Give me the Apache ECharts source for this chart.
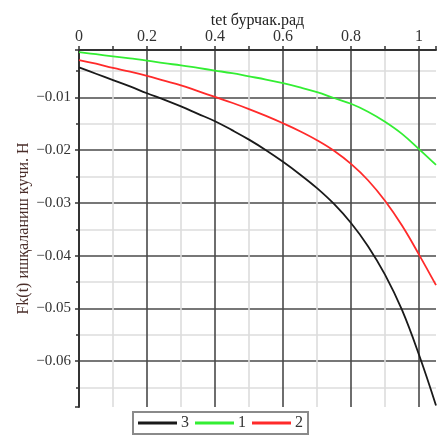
<!DOCTYPE html>
<html><head><meta charset="utf-8">
<script src="https://cdn.jsdelivr.net/npm/echarts@6/dist/echarts.min.js"></script>
<style>html,body{margin:0;padding:0;background:#fff}#c{width:444px;height:440px}</style>
</head><body><div id="c"></div>
<script>
const xValues = [0, 0.05, 0.1, 0.15, 0.2, 0.25, 0.3, 0.35, 0.4, 0.45, 0.5, 0.55, 0.6, 0.65, 0.7, 0.75, 0.8, 0.85, 0.9, 0.95, 1.0, 1.05];
const series3 = [-0.0043, -0.0055, -0.0067, -0.0079, -0.0092, -0.0104, -0.0117, -0.0131, -0.0145, -0.0162, -0.0180, -0.0200, -0.0222, -0.0246, -0.0272, -0.0302, -0.0338, -0.0382, -0.0436, -0.0503, -0.0588, -0.0684];
const series1 = [-0.0014, -0.0018, -0.0022, -0.0026, -0.0030, -0.0035, -0.0039, -0.0044, -0.0049, -0.0054, -0.0060, -0.0066, -0.0073, -0.0081, -0.0090, -0.0101, -0.0112, -0.0127, -0.0146, -0.0169, -0.0198, -0.0228];
const series2 = [-0.0029, -0.0036, -0.0044, -0.0051, -0.0059, -0.0068, -0.0077, -0.0088, -0.0099, -0.0110, -0.0122, -0.0135, -0.0149, -0.0164, -0.0181, -0.0201, -0.0226, -0.0257, -0.0296, -0.0343, -0.0398, -0.0456];
const seriesNames = ['3', '1', '2'];
const seriesColors = ['#1a1a1a', '#33ee33', '#ff2a2a'];
const xTitle = 'tet бурчак.рад';
const yTitle = 'Fk(t) ишқаланиш кучи. Н';

const font = 'Liberation Serif';
const pair = arr => xValues.map((x, i) => [x, arr[i]]);
const allSeries = [series3, series1, series2];
const chart = echarts.init(document.getElementById('c'), null, {renderer: 'canvas'});
chart.setOption({
  animation: false,
  backgroundColor: '#fff',
  grid: {left: 79, right: 8, top: 50, bottom: 33, containLabel: false},
  legend: {
    left: 133, top: 412,
    orient: 'horizontal',
    padding: [3, 5, 3, 5],
    itemGap: 6,
    itemWidth: 39, itemHeight: 3,
    borderColor: '#8a8a8a', borderWidth: 2,
    backgroundColor: '#fff',
    textStyle: {fontFamily: font, fontSize: 16, color: '#333', padding: [0, 0, 0, -1]},
    data: seriesNames.map(n => ({name: n, icon: 'rect'}))
  },
  xAxis: {
    type: 'value', position: 'top', min: 0, max: 1.05,
    name: xTitle, nameLocation: 'middle', nameGap: 21, nameMoveOverlap: false,
    nameTextStyle: {fontFamily: font, fontSize: 16, color: '#222'},
    axisLine: {show: true, onZero: false, lineStyle: {color: '#333', width: 2}},
    axisTick: {show: true, length: 4, lineStyle: {color: '#333', width: 1.5}},
    minorTick: {show: true, splitNumber: 2, length: 4, lineStyle: {color: '#333', width: 1.5}},
    axisLabel: {fontFamily: font, fontSize: 16, color: '#333', margin: 5,
      showMaxLabel: false,
      formatter: v => (Math.abs(v - 1.05) < 1e-9 ? '' : String(+v.toFixed(2)))},
    splitLine: {show: true, lineStyle: {color: ['#4a4a4a','#4a4a4a','#4a4a4a','#4a4a4a','#4a4a4a','#4a4a4a','rgba(0,0,0,0)'], width: 1.6}},
    minorSplitLine: {show: true, lineStyle: {color: '#dcdcdc', width: 1.6}}
  },
  yAxis: {
    type: 'value', min: -0.0687, max: -0.001,
    name: yTitle, nameLocation: 'middle', nameGap: 47, nameRotate: 90, nameMoveOverlap: false,
    nameTextStyle: {fontFamily: font, fontSize: 16, color: '#4a2e2a'},
    axisLine: {show: true, onZero: false, lineStyle: {color: '#333', width: 2}},
    axisTick: {show: true, length: 4, lineStyle: {color: '#333', width: 1.5}},
    minorTick: {show: true, splitNumber: 2, length: 3, lineStyle: {color: '#333', width: 1.5}},
    axisLabel: {fontFamily: font, fontSize: 15, color: '#333', margin: 8,
      showMinLabel: false, showMaxLabel: false,
      formatter: v => {
        const r = Math.round(v * 1000) / 1000;
        if (Math.abs(r * 100 - Math.round(r * 100)) > 1e-6 || r === 0) return '';
        return '\u2212' + Math.abs(r).toFixed(2).replace(/0$/, '');
      }},
    splitLine: {show: true, lineStyle: {color: ['rgba(0,0,0,0)','#4a4a4a','#4a4a4a','#4a4a4a','#4a4a4a','#4a4a4a','#4a4a4a','#4a4a4a','#4a4a4a'], width: 1.6}},
    minorSplitLine: {show: true, lineStyle: {color: '#dcdcdc', width: 1.6}}
  },
  series: seriesNames.map((n, i) => ({
    name: n, type: 'line', smooth: 0.4, showSymbol: false, symbol: 'none',
    data: pair(allSeries[i]),
    lineStyle: {color: seriesColors[i], width: 1.8},
    itemStyle: {color: seriesColors[i]},
    z: 5
  }))
});
</script>
</body></html>
